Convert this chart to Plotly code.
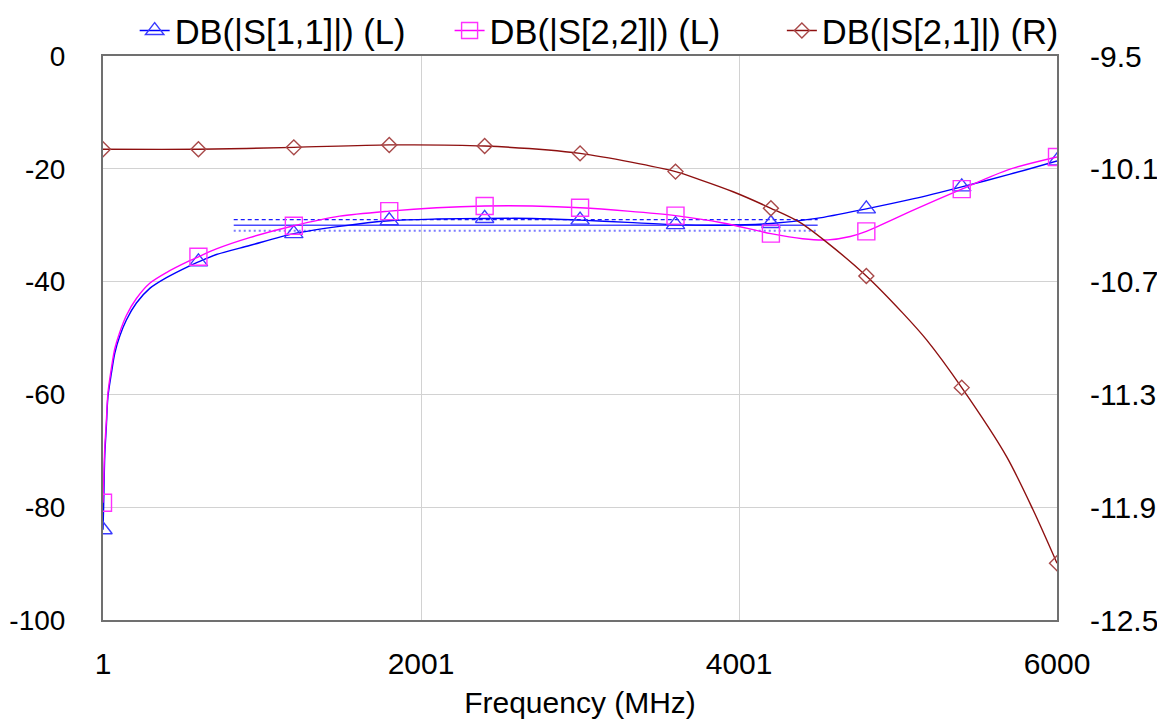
import plotly.graph_objects as go

# ---------------- data ----------------
marker_freq = [1, 601, 1201, 1801, 2401, 3001, 3601, 4201, 4801, 5401, 6000]

freq_s11 = [1, 5, 12, 22, 32, 54, 75, 106, 148, 211, 295, 400, 546, 601, 714, 923,
            1201, 1489, 1801, 2100, 2401, 2700, 3001, 3300, 3601, 3900, 4201, 4488,
            4801, 5100, 5401, 5700, 6000]
s11_db = [-84.0, -79.8, -70.9, -65.7, -60.4, -56.2, -52.7, -49.7, -46.8, -43.8, -41.2,
          -39.3, -37.2, -36.5, -35.2, -33.6, -31.5, -30.2, -29.2, -28.9, -28.8, -28.8,
          -29.1, -29.5, -29.9, -30.0, -29.7, -28.8, -27.1, -25.3, -23.2, -21.0, -18.6]

freq_s22 = [1, 5, 12, 22, 32, 54, 75, 106, 148, 211, 295, 400, 546, 601, 714, 923,
            1201, 1489, 1801, 2100, 2401, 2700, 3001, 3300, 3601, 3900, 4201, 4400,
            4560, 4700, 4801, 5100, 5401, 5700, 6000]
s22_db = [-79.2, -75.5, -69.5, -64.8, -59.8, -55.3, -51.9, -49.0, -46.0, -43.0, -40.3,
          -38.4, -36.3, -35.6, -34.2, -32.2, -30.1, -28.4, -27.5, -26.9, -26.6, -26.6,
          -26.9, -27.5, -28.3, -29.6, -31.5, -32.4, -32.6, -32.0, -31.1, -27.3, -23.6,
          -20.1, -17.9]

freq_s21 = [1, 601, 1201, 1801, 2401, 3001, 3601, 3748, 3963, 4201, 4383, 4551, 4801,
            5032, 5180, 5401, 5683, 5850, 6000]
s21_db = [-9.996, -9.996, -9.986, -9.973, -9.979, -10.018, -10.115, -10.156, -10.222,
          -10.31, -10.385, -10.49, -10.67, -10.869, -11.01, -11.264, -11.631, -11.915,
          -12.198]

goal_freq = [823, 4495]
goal_db = -30.0
goal_upper_db = -29.0
goal_lower_db = -31.0

x_ticks = [1, 2001, 4001, 6000]
y_left_ticks = [0, -20, -40, -60, -80, -100]
y_right_ticks = [-9.5, -10.1, -10.7, -11.3, -11.9, -12.5]

names = ["DB(|S[1,1]|) (L)", "DB(|S[2,2]|) (L)", "DB(|S[2,1]|) (R)"]

# ---------------- styles ----------------
C_S11 = "#0000ff"
C_S11_M = "#3a3aff"
C_S22 = "#ff00ff"
C_S22_M = "#ff30ff"
C_S21 = "#8e1010"
C_S21_M = "#a84848"
FONT = "Liberation Sans, Arial, sans-serif"
LEGEND_X = [0.0332, 0.3633, 0.7116]


def pick(freqs, vals, sel):
    d = dict(zip(freqs, vals))
    return [d[f] for f in sel]


fig = go.Figure()

# goal / spec lines
fig.add_trace(go.Scatter(x=goal_freq, y=[goal_upper_db] * 2, mode="lines",
                         line=dict(color="#1a1aff", width=1.3, dash="4px,3px"),
                         showlegend=False, hoverinfo="skip"))
fig.add_trace(go.Scatter(x=goal_freq, y=[goal_db] * 2, mode="lines",
                         line=dict(color="#4a4aff", width=1.5),
                         showlegend=False, hoverinfo="skip"))
fig.add_trace(go.Scatter(x=goal_freq, y=[goal_lower_db] * 2, mode="lines",
                         line=dict(color="#7c7cff", width=2, dash="2px,3px"),
                         showlegend=False, hoverinfo="skip"))

series = [
    (freq_s11, s11_db, C_S11, C_S11_M, "triangle-up-open", 16, "y", names[0]),
    (freq_s22, s22_db, C_S22, C_S22_M, "square-open", 17, "y", names[1]),
    (freq_s21, s21_db, C_S21, C_S21_M, "diamond-open", 11.5, "y2", names[2]),
]

legend_ids = ["legend", "legend2", "legend3"]

for i, (fr, vals, lc, mc, sym, sz, ax, nm) in enumerate(series):
    fig.add_trace(go.Scatter(x=fr, y=vals, mode="lines", yaxis=ax,
                             line=dict(color=lc, width=1.4, shape="spline", smoothing=0.8),
                             showlegend=False, hoverinfo="skip"))
    fig.add_trace(go.Scatter(x=marker_freq, y=pick(fr, vals, marker_freq), mode="markers",
                             yaxis=ax,
                             marker=dict(symbol=sym, size=sz, color=mc,
                                         line=dict(color=mc, width=1.4)),
                             showlegend=False, hoverinfo="skip"))
    # legend entry
    fig.add_trace(go.Scatter(x=[None], y=[None], mode="lines+markers", yaxis=ax, name=nm,
                             legend=legend_ids[i],
                             line=dict(color=lc, width=1.4),
                             marker=dict(symbol=sym, size=sz, color=mc,
                                         line=dict(color=mc, width=1.4))))

axis_line = dict(showline=True, linecolor="#707070", linewidth=2, mirror=True)

legend_common = dict(orientation="h", y=1.045, xanchor="left", yanchor="middle",
                     font=dict(size=34.5), bgcolor="rgba(0,0,0,0)")

# page body has an 8px margin, so the figure is sized to fit the 1165x719 window
fig.update_layout(
    width=1157, height=711,
    margin=dict(l=95, r=108, t=48, b=99, autoexpand=False),
    paper_bgcolor="white", plot_bgcolor="white",
    font=dict(family=FONT, size=30, color="black"),
    showlegend=True,
    legend=dict(x=LEGEND_X[0], **legend_common),
    legend2=dict(x=LEGEND_X[1], **legend_common),
    legend3=dict(x=LEGEND_X[2], **legend_common),
    xaxis=dict(range=[1, 6000], tickvals=x_ticks, ticktext=[str(t) for t in x_ticks],
               showgrid=True, gridcolor="#d2d2d2", gridwidth=1, zeroline=False,
               ticks="", ticklabelstandoff=16, automargin=False,
               title=dict(text="Frequency (MHz)", font=dict(size=30), standoff=18),
               **axis_line),
    yaxis=dict(range=[-100, 0], tickvals=y_left_ticks,
               ticktext=[str(t) for t in y_left_ticks],
               tickfont=dict(size=28),
               showgrid=True, gridcolor="#d2d2d2", gridwidth=1, zeroline=False,
               ticks="", ticklabelstandoff=30, automargin=False, **axis_line),
    yaxis2=dict(range=[-12.5, -9.5], tickvals=y_right_ticks,
                ticktext=[f"{t:.1f}" for t in y_right_ticks],
                overlaying="y", side="right", showgrid=False, zeroline=False,
                ticks="", ticklabelstandoff=32, showline=False, automargin=False),
)

fig.write_html("out.html")
